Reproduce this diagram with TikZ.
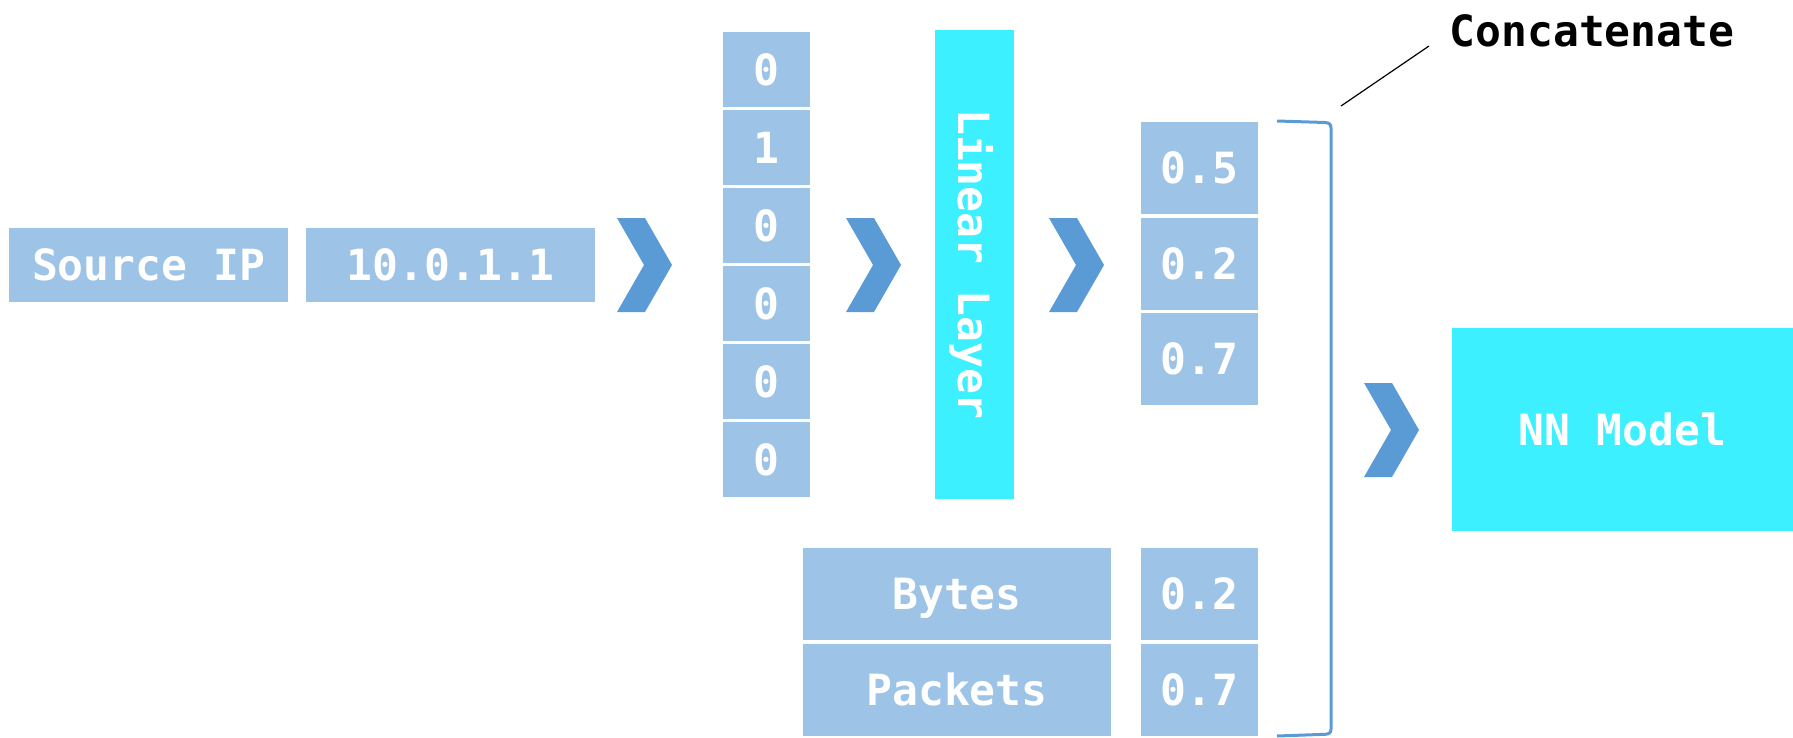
\documentclass[tikz,border=0pt]{standalone}
\usepackage{fontspec}
\setmonofont{DejaVu Sans Mono}
\usetikzlibrary{fit}
\definecolor{cellblue}{HTML}{9DC3E6}
\definecolor{arrowblue}{HTML}{5B9BD5}
\definecolor{layercyan}{HTML}{3CF0FF}
\tikzset{
  cell/.style={fill=cellblue, inner sep=0pt, outer sep=0pt},
  layer/.style={fill=layercyan, inner sep=0pt, outer sep=0pt},
  lbl/.style={text=white, font=\ttfamily\bfseries\fontsize{21.5pt}{24pt}\selectfont,
              inner sep=0pt, text height=15.7pt, text depth=0pt},
  chevron/.style={fill=arrowblue},
  bracket/.style={draw=arrowblue, line width=1.5pt},
  leader/.style={draw=black, line width=0.6pt},
}
% chevron arrow: left x, middle y
\newcommand\chev[2]{\fill[chevron] (#1,#2-47) -- ++(28,0) -- ++(27,47) -- ++(-27,47) -- ++(-28,0) -- ++(27,-47) -- cycle;}
\begin{document}
\begin{tikzpicture}[x=0.5pt,y=-0.5pt]
\useasboundingbox (0,0) rectangle (1793,738);

% input field and its value
\node[cell, fit={(9,228)(288,302)}, label={[lbl]center:Source IP}] (src) {};
\node[cell, fit={(306,228)(595,302)}, label={[lbl]center:10.0.1.1}] (ip) {};
\chev{617}{265}

% one-hot bits
\foreach \b [count=\i from 0] in {0,1,0,0,0,0}
  \node[cell, fit={(723,32+78*\i)(810,107+78*\i)}, label={[lbl]center:\b}] (bit\i) {};
\chev{846}{265}

% linear layer
\node[layer, fit={(935,30)(1014,499)}, label={[lbl,rotate=-90]center:Linear Layer}] (lin) {};
\chev{1049}{265}

% embedding values
\foreach \v [count=\i from 0] in {0.5,0.2,0.7}
  \node[cell, fit={(1141,122+95.5*\i)(1258,214+95.5*\i)}, label={[lbl]center:\v}] (emb\i) {};

% numeric features
\node[cell, fit={(803,548)(1111,640)}, label={[lbl]center:Bytes}] (bytes) {};
\node[cell, fit={(803,644)(1111,736)}, label={[lbl]center:Packets}] (packets) {};
\node[cell, fit={(1141,548)(1258,640)}, label={[lbl]center:0.2}] (vbytes) {};
\node[cell, fit={(1141,644)(1258,736)}, label={[lbl]center:0.7}] (vpackets) {};

% concatenation bracket and its caption
\draw[bracket] (1277,121) -- (1325,122.5) .. controls (1329,122.8) and (1331,124) .. (1331,128)
  -- (1331,729) .. controls (1331,733) and (1329,734) .. (1325,734.3) -- (1277,736);
\node[lbl, text=black] (concat) at (1592,31) {Concatenate};
\coordinate (tail) at (1341,106);
\coordinate (lead) at (1429,46);
\draw[leader] (tail) -- (lead);

% model
\chev{1364}{430}
\node[layer, fit={(1452,328)(1793,531)}, label={[lbl]center:NN Model}] (nn) {};
\end{tikzpicture}
\end{document}
